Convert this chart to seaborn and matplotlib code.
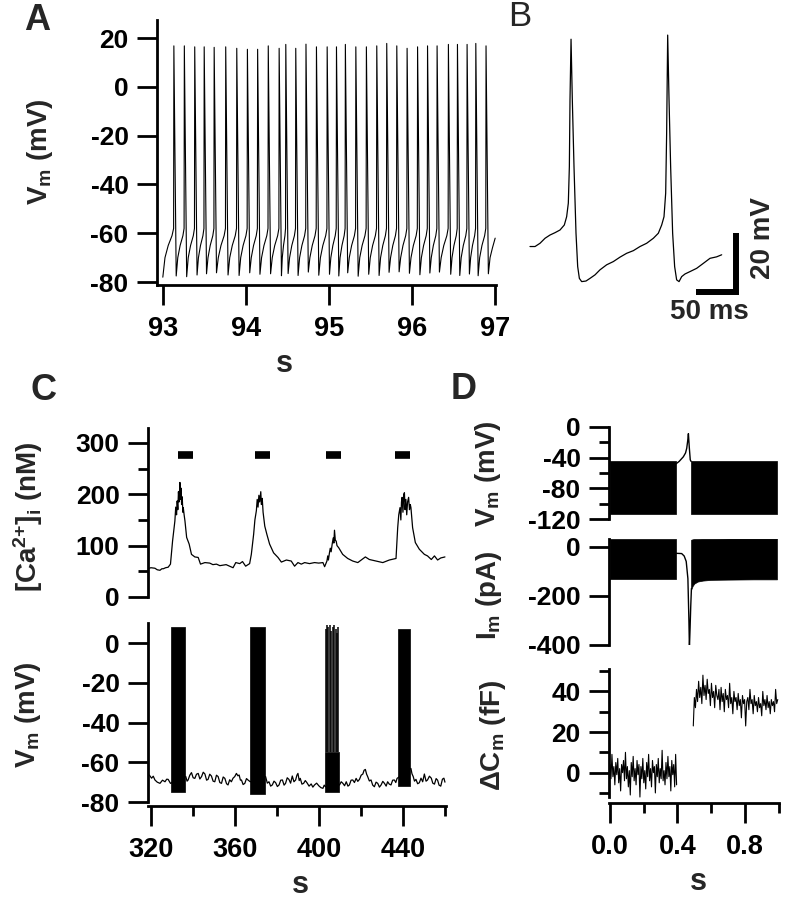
import numpy as np
import matplotlib
matplotlib.use("Agg")
import matplotlib.pyplot as plt
import seaborn as sns

# ---------------------------------------------------------------- data
# Panel A: spontaneous firing (time in s, Vm in mV)
a_spike_times = [93.133, 93.259, 93.384, 93.498, 93.618, 93.757, 93.890, 94.018,
                 94.141, 94.269, 94.400, 94.480, 94.600, 94.723, 94.849, 94.978,
                 95.090, 95.197, 95.323, 95.450, 95.575, 95.695, 95.816, 95.940,
                 96.066, 96.186, 96.301, 96.437, 96.546, 96.662, 96.767, 96.890]
a_spike_peaks = [16.8, 16.8, 16.4, 16.4, 16.2, 16.4, 15.8, 15.4, 15.4, 16.8, 15.8,
                 17.4, 15.8, 17.5, 16.4, 16.4, 16.4, 17.4, 16.4, 16.4, 16.8, 17.8,
                 16.8, 15.8, 16.4, 16.8, 16.8, 17.4, 17.4, 17.4, 17.8, 16.8]
a_troughs = [-77.5, -77.8, -77.1, -76.6, -76.2, -77.1, -77.3, -76.2, -76.8, -76.6,
             -77.4, -76.5, -77.3, -75.9, -77.2, -76.8, -77.5, -76.2, -77.6, -76.8,
             -77.3, -76.0, -75.8, -76.4, -77.0, -76.3, -75.9, -76.8, -77.3, -76.7,
             -77.4, -76.6]
a_threshold = -58.0
a_ramp_levels = [-70.0, -65.0, -61.0]
a_end_levels = [-70.0, -66.0]
a_start = (93.0, -78.0)
a_end = (97.0, -62.0)
a_xticks = [93, 94, 95, 96, 97]
a_yticks = [20, 0, -20, -40, -60, -80]

# Panel B: two action potentials (ms, mV)
b_t = [0, 6.3, 12.5, 18.8, 25, 31.3, 37.5, 42.9, 45.8, 47.9, 49.2, 50, 51.3, 52.9,
       55, 57.5, 59.6, 61.7, 64.6, 70, 75, 81.3, 87.5, 95.8, 104.2, 112.5, 120.8,
       129.2, 137.5, 145.8, 154.2, 160.4, 164.6, 167.5, 169.6, 170.8, 172.1, 173.8,
       175.8, 178.3, 180.8, 183.3, 186.3, 189.6, 193.8, 200, 208.3, 216.7, 225,
       233.3, 239.6]
b_v = [-63.0, -63.0, -61.9, -60.2, -59.1, -58.3, -57.4, -55.7, -52.9, -48.3, -35.9,
       -13.3, 7.3, -13.3, -35.9, -58.5, -69.8, -73.8, -74.9, -74.7, -73.8, -72.6,
       -70.9, -69.2, -68.1, -66.6, -65.3, -64.4, -63.0, -61.9, -60.2, -58.5, -55.7,
       -52.9, -44.9, -24.6, 8.7, -13.3, -35.9, -58.5, -69.8, -74.3, -74.9, -73.2,
       -72.3, -71.5, -70.4, -68.7, -67.0, -66.5, -65.8]
b_scale_ms = 50
b_scale_mv = 20

# Panel C (top): [Ca2+]i (s, nM)
ca_t = [319.2, 320.0, 321.9, 323.0, 324.3, 325.2, 325.9, 327.0, 328.2, 329.3, 330.3,
        331.0, 331.4, 331.8, 332.2, 332.5, 332.8, 333.1, 333.4, 333.8, 334.0, 334.3,
        334.6, 334.9, 335.2, 335.4, 335.8, 336.2, 337.0, 338.2, 339.3, 340.9, 342.5,
        343.6, 345.7, 348.0, 349.5, 351.2, 352.8, 354.3, 355.8, 357.5, 359.1, 360.4,
        362.3, 363.6, 365.1, 367.0, 367.8, 368.9, 369.5, 370.2, 370.6, 371.0, 371.4,
        371.8, 372.3, 372.6, 373.0, 373.4, 374.2, 375.2, 376.5, 378.4, 380.5, 382.1,
        384.5, 386.8, 388.4, 390.0, 391.6, 393.2, 395.5, 397.9, 399.9, 401.9, 402.7,
        403.8, 404.2, 404.5, 405.0, 405.4, 405.8, 406.3, 406.8, 407.1, 407.4, 407.8,
        408.2, 408.6, 409.4, 411.3, 413.7, 416.1, 418.5, 420.1, 422.1, 424.0, 427.2,
        430.4, 433.5, 436.7, 437.5, 438.0, 438.6, 439.0, 439.3, 439.6, 440.0, 440.4,
        440.7, 441.0, 441.4, 441.8, 442.2, 442.7, 443.1, 443.5, 443.8, 444.2, 444.6,
        445.9, 447.8, 450.2, 451.7, 453.5, 455.0, 456.5, 458.0, 460.0]
ca_v = [56, 57, 56, 53, 52, 55, 55, 57, 58, 64, 109, 135, 148, 175, 160, 187, 170,
        205, 185, 223, 190, 212, 180, 195, 165, 174, 160, 148, 116, 103, 83, 78, 77,
        64, 67, 66, 63, 64, 61, 62, 63, 60, 57, 67, 65, 69, 60, 65, 83, 122, 150, 168,
        190, 175, 198, 185, 205, 180, 192, 165, 138, 122, 103, 86, 77, 68, 72, 70, 60,
        67, 64, 67, 65, 67, 66, 67, 59, 70, 80, 72, 86, 95, 88, 103, 115, 105, 130,
        110, 109, 100, 96, 83, 75, 70, 67, 72, 78, 73, 70, 67, 72, 75, 135, 160, 174,
        150, 185, 194, 165, 200, 203, 170, 190, 160, 185, 194, 170, 180, 174, 155,
        135, 106, 93, 83, 80, 73, 80, 72, 76, 78]
stim_start = [332.7, 369.4, 403.5, 436.4]
stim_end = [339.8, 376.5, 410.6, 443.5]
stim_level = 277

# Panel C (bottom): Vm baseline between bursts (s, mV)
vm_base_pts = [
    (319.2, -66.4), (320.3, -68.0), (321.1, -67.0), (321.9, -68.9), (323.0, -70.0),
    (324.3, -70.6), (325.5, -69.0), (326.7, -69.8), (327.5, -68.5), (328.2, -68.6),
    (329.3, -70.6), (336.6, -67.2), (337.2, -69.5), (337.7, -68.9), (338.5, -66.5),
    (339.3, -65.2), (340.1, -67.8), (340.9, -68.1), (341.7, -66.0), (342.5, -65.6),
    (343.3, -68.4), (344.1, -67.2), (344.9, -65.0), (345.7, -65.9), (346.5, -69.0),
    (347.2, -68.6), (348.0, -66.0), (348.8, -66.9), (349.6, -69.5), (350.4, -69.8),
    (351.2, -66.5), (352.0, -67.2), (352.8, -70.2), (353.6, -70.6), (354.4, -67.4),
    (355.2, -68.1), (356.0, -70.8), (356.7, -71.4), (357.5, -68.8), (358.3, -69.8),
    (359.1, -68.0), (359.9, -67.2), (360.7, -65.6), (361.4, -66.8), (362.0, -66.4),
    (362.6, -69.0), (363.1, -68.9), (363.9, -71.2), (364.7, -70.6), (365.5, -68.2),
    (366.2, -68.9), (367.3, -69.8), (374.6, -67.2), (375.4, -70.5), (376.2, -69.8),
    (377.0, -72.0), (377.8, -71.4), (378.6, -69.5), (379.4, -70.3), (380.2, -72.2),
    (381.0, -71.4), (381.8, -69.0), (382.6, -68.9), (383.4, -71.5), (384.1, -70.6),
    (384.9, -67.8), (385.7, -68.6), (386.5, -70.5), (387.3, -66.9), (388.1, -69.8),
    (388.9, -68.9), (389.5, -66.5), (390.0, -65.6), (390.6, -69.2), (391.1, -68.1),
    (391.9, -71.0), (392.7, -70.6), (393.5, -69.2), (394.3, -70.3), (395.3, -72.0),
    (396.3, -70.9), (397.1, -72.5), (397.9, -71.4), (398.9, -70.5), (400.0, -71.9),
    (401.0, -72.8), (401.9, -73.1), (402.5, -71.5), (403.1, -72.3), (409.8, -71.4),
    (410.6, -69.8), (411.4, -70.6), (412.2, -71.8), (413.0, -69.8), (413.8, -72.0),
    (414.5, -71.4), (415.3, -69.0), (416.1, -68.9), (416.9, -70.2), (417.7, -68.1),
    (418.5, -69.6), (419.3, -68.6), (420.1, -66.5), (420.9, -65.9), (421.5, -64.0),
    (422.1, -63.6), (422.7, -66.0), (423.2, -67.2), (424.0, -69.4), (424.8, -68.9),
    (425.6, -71.5), (426.4, -72.3), (427.2, -70.0), (428.0, -70.6), (428.8, -72.5),
    (429.6, -71.4), (430.4, -69.6), (431.2, -70.6), (432.0, -72.0), (432.7, -69.8),
    (433.5, -71.0), (434.3, -71.4), (435.1, -69.0), (435.9, -68.9), (436.6, -70.2),
    (437.2, -68.1), (443.8, -63.1), (444.3, -65.8), (444.9, -67.2), (445.5, -69.5),
    (446.2, -68.6), (447.0, -70.8), (447.8, -70.3), (448.6, -68.0), (449.4, -69.8),
    (450.2, -65.9), (451.0, -69.5), (451.7, -68.9), (452.6, -67.0), (453.5, -68.0),
    (454.2, -70.5), (455.0, -71.0), (455.8, -68.2), (456.5, -69.0), (457.2, -71.5),
    (458.0, -72.0), (458.8, -68.5), (459.5, -68.0), (460.0, -70.0)]
burst_start = [329.5, 367.4, 437.5]
burst_end = [336.2, 374.2, 443.4]
burst_top = [8.0, 8.0, 7.0]
burst_bottom = [-75.0, -76.0, -72.0]
burst3_block = (403.1, 409.5, -75.0, -55.0)
burst3_spike_t = [403.3, 403.9, 404.5, 405.2, 405.8, 406.5, 407.2, 407.9, 408.6, 409.3]
burst3_spike_pk = [7, 9, 8, 9, 6, 8, 9, 7, 5, 8]

# Panel D: capacitance measurement (s)
dv_block_t = [(0.0, 0.392), (0.481, 0.990)]
dv_block_top = -45.0
dv_block_bottom = -113.0
dv_gap_t = [0.392, 0.41, 0.435, 0.448, 0.455, 0.461, 0.465, 0.470, 0.476, 0.481]
dv_gap_v = [-48, -45, -39, -34, -28, -18, -9, -26, -43, -45]

di_block1_t = [0.0, 0.392]
di_block1_top = [30, 30]
di_block1_bottom = [-133, -133]
di_block2_t = [0.481, 0.49, 0.50, 0.52, 0.55, 0.60, 0.70, 0.85, 0.99]
di_block2_top = [28, 30, 31, 31, 32, 32, 33, 33, 33]
di_block2_bottom = [-175, -160, -150, -142, -138, -135, -134, -133, -133]
di_gap_t = [0.392, 0.425, 0.44, 0.452, 0.462, 0.468, 0.471, 0.475, 0.479, 0.483]
di_gap_v = [-27, -28, -38, -60, -130, -300, -412, -330, -240, -170]

dcm_pre_span = (0.0, 0.395)
dcm_pre = [4, -3, 9, -2, 3, -6, 5, -1, 7, -5, 2, -9, 4, 0, 6, -4, 10, -3, 3, -7, 1,
           -11, 5, -2, 8, -4, 2, -6, 6, -1, 4, -12, 3, -3, 7, -5, 1, -8, 5, -2, 9, -4,
           2, -7, 6, 0, 3, -10, 4, -2, 7, -5, 2, -3, 11, -4, 1, -6, 5, -3, 8, -2, 3,
           -9, 6, -1, 4, -7, 9, -6]
dcm_post_span = (0.494, 0.995)
dcm_post = [23, 37, 32, 41, 35, 45, 37, 42, 34, 48, 38, 43, 36, 46, 39, 41, 33, 44,
            37, 40, 32, 43, 38, 36, 41, 31, 42, 35, 39, 30, 41, 36, 38, 32, 44, 34, 37,
            29, 40, 35, 37, 31, 39, 33, 36, 27, 38, 34, 36, 23, 35, 37, 31, 41, 34, 36,
            29, 38, 33, 35, 30, 37, 32, 34, 28, 40, 33, 36, 31, 38, 32, 35, 29, 36, 33,
            35, 30, 41, 34, 36]

# ---------------------------------------------------------------- style
sns.set_style("ticks")
plt.rcParams["font.family"] = ["Liberation Sans", "DejaVu Sans"]
plt.rcParams["font.weight"] = "bold"
plt.rcParams["axes.labelweight"] = "bold"
plt.rcParams["mathtext.default"] = "regular"
plt.rcParams["axes.unicode_minus"] = False

W, H = 788, 900
fig = plt.figure(figsize=(W / 100, H / 100), dpi=100)
fig.patch.set_facecolor("white")

LW_AX = 2.0
TICK_MAJ = 14.5
TICK_MIN = 7.0
TRACE_LW = 0.9
YT_SIZE = 19
XT_SIZE = 19.5
LAB_SIZE = 20


def add_ax(x0, y0, x1, y1):
    return fig.add_axes([x0 / W, 1 - y1 / H, (x1 - x0) / W, (y1 - y0) / H])


def ftext(x, y, s, **kw):
    fig.text(x / W, 1 - y / H, s, **kw)


def style(ax, show_bottom=True, left_bounds=None):
    sns.despine(ax=ax, top=True, right=True, bottom=not show_bottom)
    for s in ("left", "bottom"):
        ax.spines[s].set_linewidth(LW_AX)
        ax.spines[s].set_color("black")
    if left_bounds is not None:
        ax.spines["left"].set_bounds(*left_bounds)
    ax.tick_params(which="major", direction="out", length=TICK_MAJ, width=LW_AX,
                   color="black", labelcolor="black")
    ax.tick_params(which="minor", direction="out", length=TICK_MIN, width=LW_AX,
                   color="black")
    ax.tick_params(axis="y", labelsize=YT_SIZE, pad=6)
    ax.tick_params(axis="x", labelsize=XT_SIZE, pad=8)
    if not show_bottom:
        ax.tick_params(axis="x", which="both", bottom=False, labelbottom=False)
    ax.set_xlabel("")
    ax.set_ylabel("")
    ax.patch.set_alpha(0)
    ax.grid(False)


def trace(ax, x, y, lw=TRACE_LW):
    sns.lineplot(x=np.asarray(x, float), y=np.asarray(y, float), ax=ax,
                 color="black", lw=lw, estimator=None, sort=False, legend=False)


# ---------------------------------------------------------------- panel A
A_RAMP_FRAC = [0.2, 0.5, 0.85]
A_DOWN = 0.028
a_t, a_v = [a_start[0]], [a_start[1]]
prev_t = a_start[0]
for ts, pk, tr in zip(a_spike_times, a_spike_peaks, a_troughs):
    gap = (ts - 0.003) - prev_t
    for f, lv in zip(A_RAMP_FRAC, a_ramp_levels):
        a_t.append(prev_t + f * gap)
        a_v.append(lv)
    a_t += [ts - 0.003, ts, ts + A_DOWN]
    a_v += [a_threshold, pk, tr]
    prev_t = ts + A_DOWN
gap = a_end[0] - prev_t
for f, lv in zip([0.25, 0.6], a_end_levels):
    a_t.append(prev_t + f * gap)
    a_v.append(lv)
a_t.append(a_end[0])
a_v.append(a_end[1])

axA = add_ax(157, 20, 496, 285)
trace(axA, a_t, a_v, lw=0.8)
axA.set_xlim(92.93, 97.01)
axA.set_ylim(-81.2, 27.4)
axA.set_xticks(a_xticks)
axA.set_xticklabels([str(v) for v in a_xticks])
axA.set_yticks(a_yticks)
style(axA)
ftext(40, 152, r"V$_\mathregular{m}$ (mV)", rotation=90, ha="center", va="center",
      fontsize=LAB_SIZE, fontweight="bold")
ftext(284, 364, "s", ha="center", va="center", fontsize=22, fontweight="bold")

# ---------------------------------------------------------------- panel B
axB = add_ax(500, 0, 788, 340)
trace(axB, b_t, b_v)
axB.set_xlim(-37.5, 322.5)
axB.set_ylim(-94.7, 20.6)
axB.axis("off")
bar_t0, bar_v0 = 257.5, -78.4
axB.plot([bar_t0 - b_scale_ms, bar_t0, bar_t0], [bar_v0, bar_v0, bar_v0 + b_scale_mv],
         color="black", lw=4.3, solid_joinstyle="miter", solid_capstyle="butt")
ftext(709, 312, f"{b_scale_ms} ms", ha="center", va="center", fontsize=20,
      fontweight="bold")
ftext(763, 238, f"{b_scale_mv} mV", rotation=90, ha="center", va="center",
      fontsize=20, fontweight="bold")

# ---------------------------------------------------------------- panel C top
C_XLIM = (318.6, 460.5)
axCa = add_ax(148, 428, 446, 597)
trace(axCa, ca_t, ca_v)
axCa.hlines([stim_level] * len(stim_start), stim_start, stim_end, colors="black",
            lw=5.5, capstyle="butt")
axCa.set_xlim(*C_XLIM)
axCa.set_ylim(0, 329)
axCa.set_yticks([0, 100, 200, 300])
axCa.set_yticks([50, 150, 250], minor=True)
style(axCa, show_bottom=False)
ftext(28, 517, r"[Ca$^\mathregular{2{+}}$]$_\mathregular{i}$ (nM)", rotation=90,
      ha="center", va="center", fontsize=LAB_SIZE, fontweight="bold")

# ---------------------------------------------------------------- panel C bottom
axCv = add_ax(148, 623, 446, 806)
for s0, s1, top, bot in zip(burst_start, burst_end, burst_top, burst_bottom):
    axCv.fill_between([s0, s1], [bot, bot], [top, top], color="black", lw=0.5)
b3s, b3e, b3lo, b3hi = burst3_block
axCv.fill_between([b3s, b3e], [b3lo, b3lo], [b3hi, b3hi], color="black", lw=0.5)
axCv.vlines(burst3_spike_t, b3hi, burst3_spike_pk, colors="black", lw=1.1)
vm_t, vm_v = zip(*vm_base_pts)
trace(axCv, vm_t, vm_v)
axCv.set_xlim(*C_XLIM)
axCv.set_ylim(-82, 10.1)
axCv.set_yticks([0, -20, -40, -60, -80])
axCv.set_xticks([320, 360, 400, 440])
axCv.set_xticks([340, 380, 420, 460], minor=True)
style(axCv, left_bounds=(-80, 10.1))
ftext(28, 715, r"V$_\mathregular{m}$ (mV)", rotation=90, ha="center", va="center",
      fontsize=LAB_SIZE, fontweight="bold")
ftext(300, 885, "s", ha="center", va="center", fontsize=22, fontweight="bold")

# ---------------------------------------------------------------- panel D
D_XLIM = (-0.006, 1.0024)
axD1 = add_ax(609, 426.7, 779, 519.3)
for (s0, s1) in dv_block_t:
    axD1.fill_between([s0, s1], [dv_block_bottom] * 2, [dv_block_top] * 2,
                      color="black", lw=0.5)
trace(axD1, dv_gap_t, dv_gap_v, lw=1.0)
axD1.set_xlim(*D_XLIM)
axD1.set_ylim(-120, 0)
axD1.set_yticks([0, -40, -80, -120])
axD1.set_yticks([-20, -60, -100], minor=True)
style(axD1, show_bottom=False)

axD2 = add_ax(609, 539.3, 779, 645)
axD2.fill_between(di_block1_t, di_block1_bottom, di_block1_top, color="black", lw=0.5)
axD2.fill_between(di_block2_t, di_block2_bottom, di_block2_top, color="black", lw=0.5)
trace(axD2, di_gap_t, di_gap_v, lw=1.0)
axD2.set_xlim(*D_XLIM)
axD2.set_ylim(-400, 30)
axD2.set_yticks([0, -200, -400])
style(axD2, show_bottom=False)

axD3 = add_ax(609, 669.3, 779, 802.7)
trace(axD3, np.linspace(dcm_pre_span[0], dcm_pre_span[1], len(dcm_pre)), dcm_pre,
      lw=0.8)
trace(axD3, np.linspace(dcm_post_span[0], dcm_post_span[1], len(dcm_post)), dcm_post,
      lw=0.8)
axD3.set_xlim(*D_XLIM)
axD3.set_ylim(-14.8, 50.9)
axD3.set_yticks([0, 20, 40])
axD3.set_yticks([-10, 10, 30, 50], minor=True)
axD3.set_xticks([0.0, 0.4, 0.8])
axD3.set_xticklabels(["0.0", "0.4", "0.8"])
axD3.set_xticks([0.2, 0.6, 1.0], minor=True)
style(axD3, left_bounds=(-11.8, 50.9))

ftext(488, 474, r"V$_\mathregular{m}$ (mV)", rotation=90, ha="center", va="center",
      fontsize=LAB_SIZE, fontweight="bold")
ftext(489, 595, r"I$_\mathregular{m}$ (pA)", rotation=90, ha="center", va="center",
      fontsize=LAB_SIZE, fontweight="bold")
ftext(493, 735, r"ΔC$_\mathregular{m}$ (fF)", rotation=90, ha="center", va="center",
      fontsize=LAB_SIZE, fontweight="bold")
ftext(698, 882, "s", ha="center", va="center", fontsize=22, fontweight="bold")

# ---------------------------------------------------------------- panel letters
ftext(37, 21, "A", ha="center", va="center", fontsize=26, fontweight="bold")
ftext(520, 17, "B", ha="center", va="center", fontsize=25, fontweight="normal")
ftext(43, 391, "C", ha="center", va="center", fontsize=26, fontweight="bold")
ftext(464, 389, "D", ha="center", va="center", fontsize=26, fontweight="bold")

fig.savefig("out.png", dpi=100, facecolor="white")
